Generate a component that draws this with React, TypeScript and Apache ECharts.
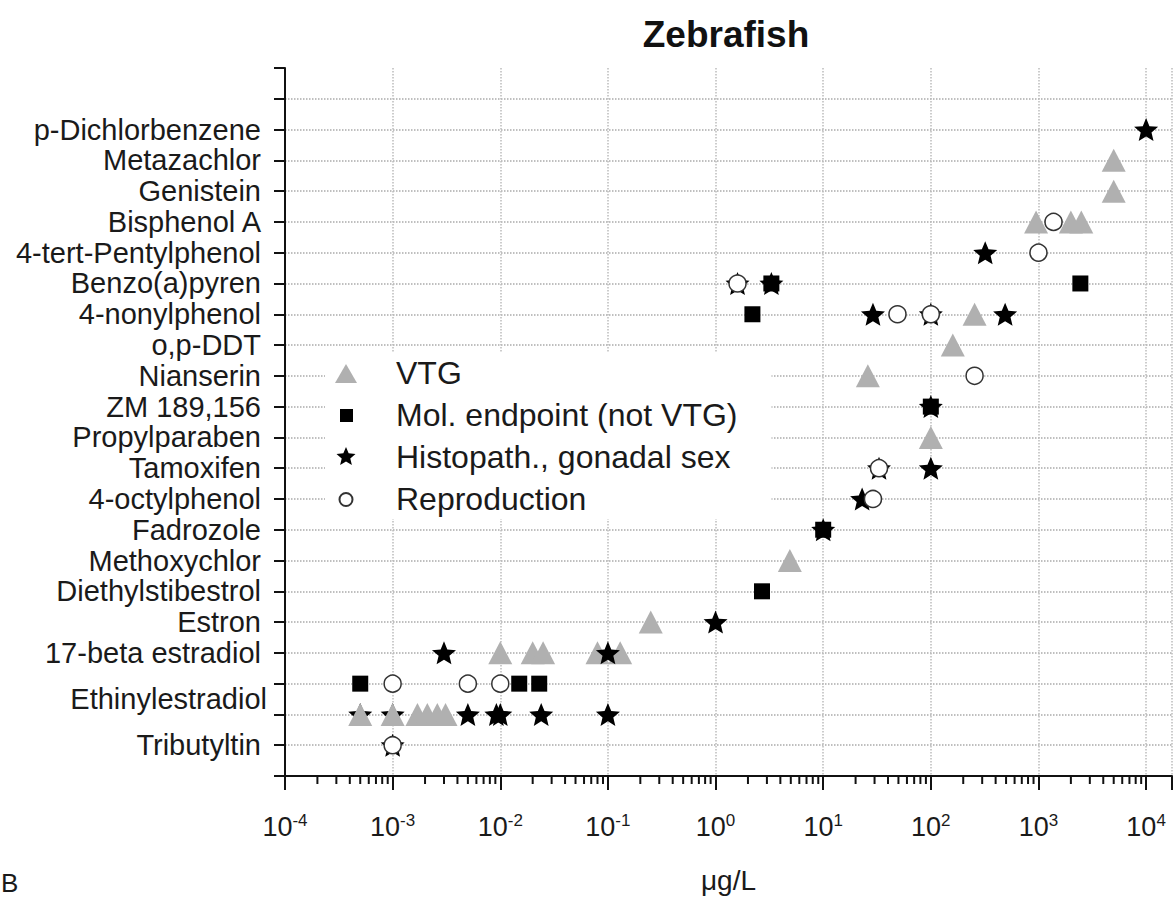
import React, { useEffect, useRef } from 'react';
import * as echarts from 'echarts';

// ---- Data -----------------------------------------------------------------
// Row positions on the vertical axis (index = row value)
const ROW_LABELS: string[] = [
  '', 'Tributyltin', '', '', '17-beta estradiol', 'Estron', 'Diethylstibestrol',
  'Methoxychlor', 'Fadrozole', '4-octylphenol', 'Tamoxifen', 'Propylparaben',
  'ZM 189,156', 'Nianserin', 'o,p-DDT', '4-nonylphenol', 'Benzo(a)pyren',
  '4-tert-Pentylphenol', 'Bisphenol A', 'Genistein', 'Metazachlor', 'p-Dichlorbenzene', '', '',
];
const GROUP_LABEL = 'Ethinylestradiol';
const GROUP_LABEL_ROW = 2.5;

const SERIES_NAMES = ['VTG', 'Mol. endpoint (not VTG)', 'Histopath., gonadal sex', 'Reproduction'];

// [concentration µg/L, row]
const VTG_POINTS: [number, number][] = [
  [5000, 20], [5000, 19], [950, 18], [2000, 18], [2500, 18], [255, 15], [160, 14],
  [26, 13], [100, 11], [4.9, 7], [0.25, 5], [0.01, 4], [0.02, 4], [0.025, 4],
  [0.08, 4], [0.13, 4], [0.0005, 2], [0.001, 2], [0.0017, 2], [0.0021, 2],
  [0.0026, 2], [0.0031, 2],
];
const MOL_POINTS: [number, number][] = [
  [3.3, 16], [2450, 16], [2.2, 15], [100, 12], [10, 8], [2.7, 6],
  [0.0005, 3], [0.015, 3], [0.023, 3],
];
const HISTO_POINTS: [number, number][] = [
  [10000, 21], [320, 17], [1.6, 16], [3.3, 16], [29, 15], [100, 15], [490, 15],
  [100, 12], [33, 10], [100, 10], [23, 9], [10, 8], [1, 5], [0.003, 4], [0.1, 4],
  [0.005, 2], [0.0092, 2], [0.01, 2], [0.024, 2], [0.1, 2], [0.001, 1],
];
// stars hidden below VTG triangles
const HISTO_UNDER_POINTS: [number, number][] = [[0.0005, 2], [0.001, 2]];
const REPRO_POINTS: [number, number][] = [
  [1380, 18], [1000, 17], [1.6, 16], [49, 15], [100, 15], [255, 13], [33, 10],
  [29, 9], [0.001, 3], [0.005, 3], [0.01, 3], [0.001, 1],
];

const X_MIN = 1e-4;
const X_MAX = 17400;
const DECADE_EXPONENTS = [-4, -3, -2, -1, 0, 1, 2, 3];
const MINOR_MANTISSAS = [2, 3, 4, 5, 6, 7, 8, 9];

// ---- Styles ---------------------------------------------------------------
const FONT = "'Liberation Sans', Arial, Helvetica, sans-serif";
const INK = '#1a1a1a';
const GRAY = '#b0b0b0';
const STAR_PATH =
  'path://M0,-10L2.646,-3.641L9.511,-3.09L4.28,1.391L5.878,8.09L0,4.5L-5.878,8.09L-4.28,1.391L-9.511,-3.09L-2.646,-3.641Z';
const ICON_TRI = 'path://M0,0M60,22M4,21L15,2L26,21Z';
const ICON_SQ = 'path://M0,0M60,22M9,5h13v13h-13Z';
const ICON_STAR =
  'path://M0,0M60,22M15,1L17.65,7.36L24.51,7.91L19.28,12.39L20.88,19.09L15,15.5L9.12,19.09L10.72,12.39L5.49,7.91L12.35,7.36Z';
const ICON_CIRC = 'path://M0,0M60,22M8.5,11.5a6.5,6.5 0 1,0 13,0a6.5,6.5 0 1,0 -13,0Z';

export default function App() {
  const ref = useRef<HTMLDivElement>(null);

  useEffect(() => {
    if (!ref.current) return;
    const chart = echarts.init(ref.current, undefined, { renderer: 'svg' });

    const minorTicks: [number, number][] = [];
    DECADE_EXPONENTS.forEach((d) =>
      MINOR_MANTISSAS.forEach((m) => minorTicks.push([m * Math.pow(10, d), 0]))
    );

    const option: any = {
      animation: false,
      backgroundColor: '#ffffff',
      textStyle: { fontFamily: FONT },
      graphic: [
        {
          type: 'text',
          x: 726,
          y: 34,
          style: {
            text: 'Zebrafish',
            fontSize: 37,
            fontWeight: 'bold',
            fontFamily: FONT,
            fill: '#111',
            align: 'center',
            verticalAlign: 'middle',
          },
        },
        {
          type: 'text',
          x: 1,
          y: 870,
          style: { text: 'B', fontSize: 26, fontFamily: FONT, fill: INK, align: 'left', verticalAlign: 'top' },
        },
      ],
      grid: { left: 285, right: 0, top: 68, bottom: 123, containLabel: false },
      legend: {
        orient: 'vertical',
        left: 325,
        top: 353,
        backgroundColor: '#ffffff',
        padding: [4, 34, 4, 5],
        itemGap: 10,
        itemWidth: 60,
        itemHeight: 22,
        selectedMode: false,
        textStyle: { fontSize: 32, color: INK, fontFamily: FONT },
        data: [
          { name: SERIES_NAMES[0], icon: ICON_TRI },
          { name: SERIES_NAMES[1], icon: ICON_SQ },
          { name: SERIES_NAMES[2], icon: ICON_STAR },
          { name: SERIES_NAMES[3], icon: ICON_CIRC },
        ],
      },
      xAxis: {
        type: 'log',
        logBase: 10,
        min: X_MIN,
        max: X_MAX,
        name: 'μg/L',
        nameLocation: 'middle',
        nameGap: 90,
        nameTextStyle: { fontSize: 28, color: INK, fontFamily: FONT },
        axisLine: { show: true, onZero: false, lineStyle: { color: '#111', width: 2 } },
        axisTick: { show: true, length: 14, lineStyle: { color: '#111', width: 2 } },
        axisLabel: {
          margin: 36,
          color: INK,
          formatter: (v: number) => {
            const l = Math.log10(v);
            const e = Math.round(l);
            if (Math.abs(l - e) > 1e-6) return '';
            return `{b|10}{s|${e}}`;
          },
          rich: {
            b: { fontSize: 27, lineHeight: 30, color: INK, fontFamily: FONT },
            s: { fontSize: 17, lineHeight: 17, color: INK, fontFamily: FONT, verticalAlign: 'top' },
          },
        },
        splitLine: {
          show: true,
          showMinLine: false,
          lineStyle: { color: '#bcbcbc', type: 'dotted', width: 1.5 },
        },
      },
      yAxis: [
        {
          type: 'value',
          min: 0,
          max: ROW_LABELS.length - 1,
          interval: 1,
          axisLine: { show: true, lineStyle: { color: '#111', width: 2 } },
          axisTick: { show: true, length: 11, lineStyle: { color: '#111', width: 2 } },
          axisLabel: {
            margin: 24,
            fontSize: 29,
            color: INK,
            fontFamily: FONT,
            formatter: (v: number) => ROW_LABELS[Math.round(v)] || '',
          },
          splitLine: {
            show: true,
            showMinLine: false,
            showMaxLine: false,
            lineStyle: { color: '#ababab', type: 'dotted', width: 1.5 },
          },
        },
        {
          type: 'value',
          min: 0,
          max: ROW_LABELS.length - 1,
          interval: 0.5,
          position: 'left',
          offset: 0,
          axisLine: { show: false },
          axisTick: { show: false },
          splitLine: { show: false },
          axisLabel: {
            margin: 18,
            fontSize: 29,
            color: INK,
            fontFamily: FONT,
            formatter: (v: number) => (Math.abs(v - GROUP_LABEL_ROW) < 1e-6 ? GROUP_LABEL : ''),
          },
        },
      ],
      series: [
        {
          type: 'custom',
          name: 'minor-ticks',
          silent: true,
          clip: false,
          data: minorTicks,
          renderItem: (_p: any, api: any) => {
            const pt = api.coord([api.value(0), api.value(1)]);
            return {
              type: 'line',
              shape: { x1: pt[0], y1: pt[1], x2: pt[0], y2: pt[1] + 8 },
              style: { stroke: '#111', lineWidth: 2 },
            };
          },
        },
        {
          type: 'scatter',
          name: SERIES_NAMES[2],
          data: HISTO_UNDER_POINTS,
          symbol: STAR_PATH,
          symbolSize: [24, 23],
          itemStyle: { color: '#000', opacity: 1 },
        },
        {
          type: 'scatter',
          name: SERIES_NAMES[0],
          data: VTG_POINTS,
          symbol: 'triangle',
          symbolSize: [24, 23],
          itemStyle: { color: GRAY, opacity: 1 },
        },
        {
          type: 'scatter',
          name: SERIES_NAMES[2],
          data: HISTO_POINTS,
          symbol: STAR_PATH,
          symbolSize: [24, 23],
          itemStyle: { color: '#000', opacity: 1 },
        },
        {
          type: 'scatter',
          name: SERIES_NAMES[1],
          data: MOL_POINTS,
          symbol: 'rect',
          symbolSize: 16,
          itemStyle: { color: '#000', opacity: 1 },
        },
        {
          type: 'scatter',
          name: SERIES_NAMES[3],
          data: REPRO_POINTS,
          symbol: 'circle',
          symbolSize: 17,
          itemStyle: { color: '#ffffff', borderColor: '#333', borderWidth: 1.5, opacity: 1 },
        },
      ],
    };

    chart.setOption(option);
    return () => chart.dispose();
  }, []);

  return (
    <div
      ref={ref}
      style={{ position: 'fixed', left: 0, top: 0, width: 1175, height: 899, background: '#fff' }}
    />
  );
}
